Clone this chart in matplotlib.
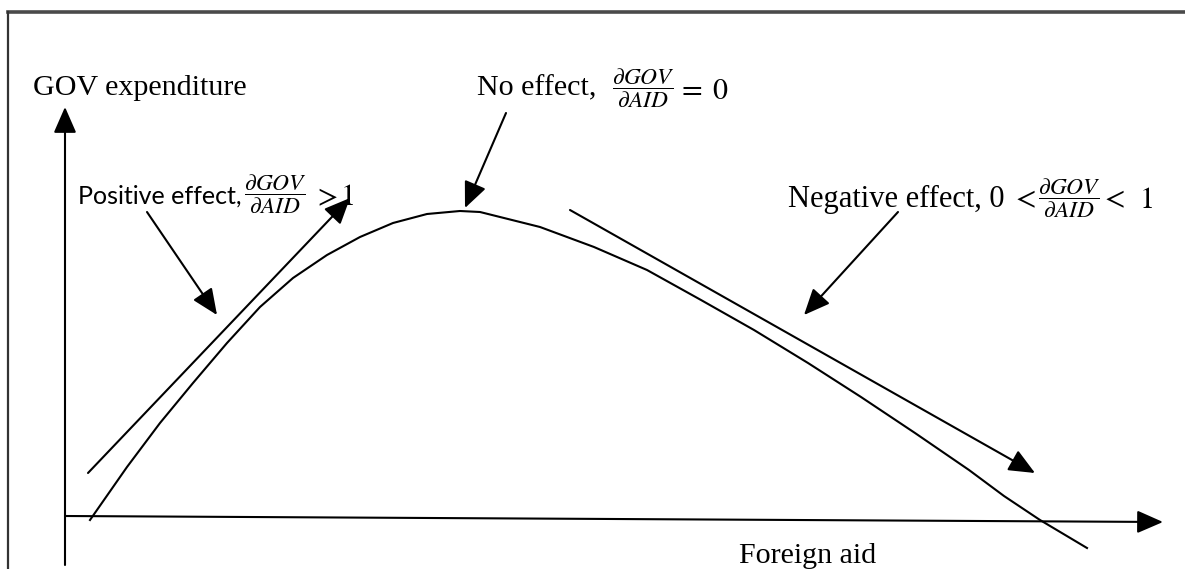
import matplotlib
matplotlib.use("Agg")
import matplotlib.pyplot as plt
from matplotlib.lines import Line2D

plt.rcParams['mathtext.fontset'] = 'stix'

# Curve of GOV expenditure against foreign aid
aid = [25, 62, 95, 128, 162, 195, 228, 262, 295, 328, 362, 395, 415,
       475, 529, 582, 636, 689, 743, 796, 850, 904, 939, 975, 1022]
gov = [-1, 52, 96, 136, 176, 212, 241, 264, 282, 296, 305, 308, 307,
       292, 272, 249, 219, 189, 156, 122, 86, 49, 23, -1, -29]

# Tangent lines (start, end)
tan_pos_aid = [23, 285]
tan_pos_gov = [46, 321]
tan_neg_aid = [505, 970]
tan_neg_gov = [309, 46]

# Axes ends
yaxis_gov = [-46, 412]
xaxis_aid = [0, 1098]
xaxis_gov = [3, -3]

serif = 'Liberation Serif'
sans = 'Lato'
fs = 21.6
frac = r'$\dfrac{\partial GOV}{\partial AID}$'
frac_fs = 16.8

fig = plt.figure(figsize=(11.85, 5.69), dpi=100)
ax = fig.add_axes([0, 0, 1, 1])
ax.set_xlim(-65, 1120)
ax.set_ylim(-50, 519)
ax.axis('off')

# frame around the figure
fig.add_artist(Line2D([8 / 1185, 1], [1 - 12 / 569, 1 - 12 / 569],
                      transform=fig.transFigure, color='#4a4a4a', lw=2.6))
fig.add_artist(Line2D([8 / 1185, 8 / 1185], [0, 1 - 12 / 569],
                      transform=fig.transFigure, color='#333333', lw=1.6))

head = dict(arrowstyle='-|>,head_length=0.8,head_width=0.35', mutation_scale=20,
            color='black', lw=1.5, shrinkA=0, shrinkB=0)

# axes with arrow heads
ax.annotate('', xy=(0, yaxis_gov[1]), xytext=(0, yaxis_gov[0]), arrowprops=head)
ax.annotate('', xy=(xaxis_aid[1], xaxis_gov[1]), xytext=(xaxis_aid[0], xaxis_gov[0]),
            arrowprops=head)

# the curve
ax.plot(aid, gov, color='black', lw=1.5, solid_joinstyle='round')

# tangents
ax.annotate('', xy=(tan_pos_aid[1], tan_pos_gov[1]), xytext=(tan_pos_aid[0], tan_pos_gov[0]),
            arrowprops=head)
ax.annotate('', xy=(tan_neg_aid[1], tan_neg_gov[1]), xytext=(tan_neg_aid[0], tan_neg_gov[0]),
            arrowprops=head)

# axis labels
ax.text(-32, 431, 'GOV expenditure', family=serif, fontsize=fs, va='center', ha='left')
ax.text(743, -24, 'Foreign aid', family=serif, fontsize=fs, va='top', ha='center')

# no effect
ax.text(412, 431, 'No effect,', family=serif, fontsize=fs, va='center', ha='left')
ax.text(578, 431, frac, fontsize=frac_fs, va='center', ha='center')
ax.text(612, 429, r'$=\;0$', fontsize=fs, va='center', ha='left')
ax.annotate('', xy=(400, 311), xytext=(441, 406), arrowprops=head)

# positive effect
ax.text(13, 323, 'Positive effect,', family=sans, fontsize=18, va='center', ha='left')
ax.text(210, 325, frac, fontsize=frac_fs, va='center', ha='center')
ax.text(248, 322, r'$>$', fontsize=fs, va='center', ha='left')
ax.text(275, 323, r'$1$', fontsize=fs, va='center', ha='left')
ax.annotate('', xy=(152, 204), xytext=(82, 307), arrowprops=head)

# negative effect
ax.text(723, 320, 'Negative effect, 0', family=serif, fontsize=22, va='center', ha='left')
ax.text(958, 320, r'$<$', fontsize=fs, va='center', ha='center')
ax.text(1004, 321, frac, fontsize=frac_fs, va='center', ha='center')
ax.text(1047, 320, r'$<$', fontsize=fs, va='center', ha='center')
ax.text(1081, 320, r'$1$', fontsize=fs, va='center', ha='center')
ax.annotate('', xy=(739, 204), xytext=(833, 307), arrowprops=head)

fig.savefig('out.png', dpi=100)
